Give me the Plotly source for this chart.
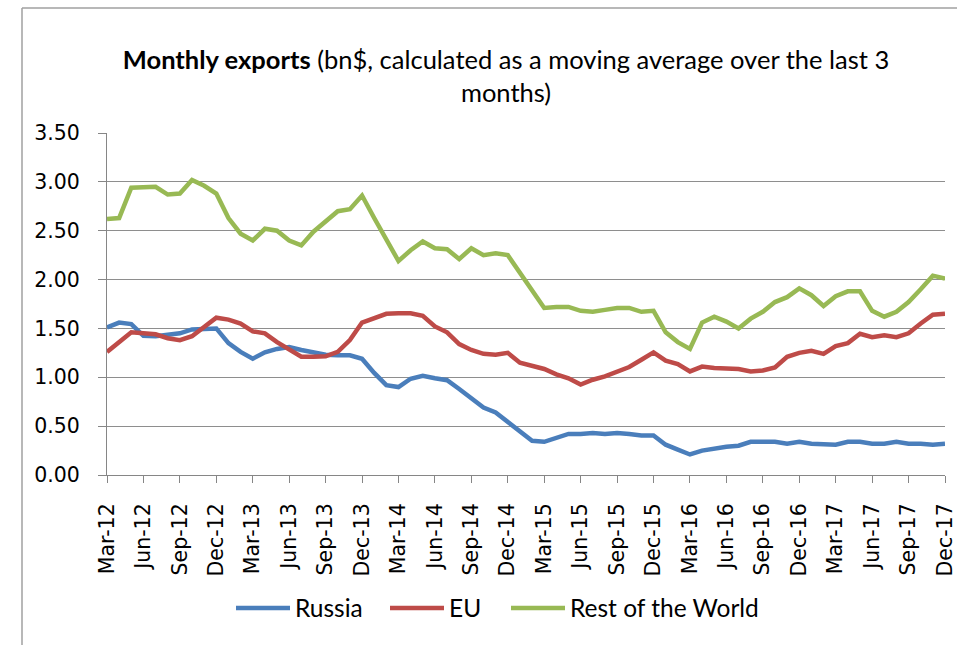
import plotly.graph_objects as go

months = ["Mar-12","Apr-12","May-12","Jun-12","Jul-12","Aug-12","Sep-12","Oct-12","Nov-12","Dec-12",
          "Jan-13","Feb-13","Mar-13","Apr-13","May-13","Jun-13","Jul-13","Aug-13","Sep-13","Oct-13","Nov-13","Dec-13",
          "Jan-14","Feb-14","Mar-14","Apr-14","May-14","Jun-14","Jul-14","Aug-14","Sep-14","Oct-14","Nov-14","Dec-14",
          "Jan-15","Feb-15","Mar-15","Apr-15","May-15","Jun-15","Jul-15","Aug-15","Sep-15","Oct-15","Nov-15","Dec-15",
          "Jan-16","Feb-16","Mar-16","Apr-16","May-16","Jun-16","Jul-16","Aug-16","Sep-16","Oct-16","Nov-16","Dec-16",
          "Jan-17","Feb-17","Mar-17","Apr-17","May-17","Jun-17","Jul-17","Aug-17","Sep-17","Oct-17","Nov-17","Dec-17"]

russia = [1.51,1.56,1.545,1.425,1.42,1.43,1.45,1.49,1.49,1.50,
          1.35,1.26,1.19,1.255,1.29,1.31,1.28,1.25,1.23,1.225,1.225,1.19,
          1.045,0.92,0.90,0.985,1.015,0.99,0.97,0.88,0.79,0.69,0.64,0.54,
          0.44,0.35,0.34,0.38,0.42,0.42,0.43,0.42,0.43,0.42,0.405,0.405,
          0.31,0.26,0.21,0.25,0.275,0.29,0.30,0.34,0.34,0.34,0.32,0.34,
          0.32,0.31,0.31,0.34,0.34,0.32,0.32,0.34,0.32,0.32,0.31,0.32]

eu = [1.26,1.36,1.46,1.45,1.44,1.40,1.38,1.42,1.51,1.61,
      1.59,1.55,1.47,1.45,1.36,1.28,1.21,1.21,1.215,1.26,1.38,1.56,
      1.60,1.65,1.655,1.655,1.63,1.52,1.46,1.34,1.28,1.24,1.23,1.25,
      1.15,1.12,1.085,1.03,0.99,0.925,0.975,1.01,1.06,1.105,1.18,1.255,
      1.17,1.135,1.06,1.11,1.095,1.09,1.085,1.06,1.07,1.10,1.21,1.25,
      1.27,1.24,1.32,1.35,1.445,1.41,1.43,1.41,1.45,1.55,1.64,1.65]

rest_of_world = [2.62,2.63,2.94,2.95,2.95,2.87,2.88,3.02,2.96,2.88,
                 2.63,2.47,2.40,2.52,2.50,2.40,2.35,2.49,2.60,2.70,2.72,2.86,
                 2.63,2.41,2.19,2.30,2.39,2.32,2.31,2.21,2.32,2.25,2.27,2.25,
                 2.07,1.88,1.71,1.72,1.72,1.68,1.67,1.69,1.71,1.71,1.67,1.68,
                 1.46,1.36,1.29,1.56,1.62,1.57,1.50,1.60,1.67,1.77,1.82,1.91,
                 1.84,1.73,1.83,1.88,1.88,1.68,1.62,1.67,1.77,1.90,2.04,2.01]

y_ticks = [0, 0.5, 1.0, 1.5, 2.0, 2.5, 3.0, 3.5]
tick_labels = months[::3]

# the page margin is removed by a small post script, so figure coords == page coords
W, H = 957, 645
L, R, T, B = 107, 945, 133, 475

def px_x(page_x):
    return (page_x - L) / (R - L)

def px_y(page_y):
    return (B - page_y) / (B - T)

text_font = "Lato, Carlito, Calibri, sans-serif"
tick_font = dict(family="DejaVu Sans, Verdana, sans-serif", size=20.5, color="#000000")

series = [("Russia", russia, "#4A7EBB", "legend", 231),
          ("EU", eu, "#BE4B48", "legend2", 385),
          ("Rest of the World", rest_of_world, "#98B954", "legend3", 506)]

fig = go.Figure()
legends = {}
for name, vals, col, leg, lx in series:
    fig.add_trace(go.Scatter(x=months, y=vals, mode="lines", name=name,
                             line=dict(color=col, width=4.5), legend=leg))
    legends[leg] = dict(orientation="h", x=px_x(lx), xanchor="left",
                        y=px_y(608), yanchor="middle",
                        font=dict(family=text_font, size=24.5, color="#000000"),
                        itemwidth=54, bgcolor="rgba(0,0,0,0)")

fig.update_layout(
    width=W, height=H,
    margin=dict(l=L, r=W - R, t=T, b=H - B, pad=0, autoexpand=False),
    paper_bgcolor="white", plot_bgcolor="white",
    title=dict(text="<b>Monthly exports</b> (bn$, calculated as a moving average over the last 3<br>months)",
               x=506 / W, xref="container", xanchor="center",
               y=1 - 69 / H, yref="container", yanchor="top",
               font=dict(family=text_font, size=25.5, color="#000000")),
    showlegend=True,
    xaxis=dict(type="category", range=[0, len(months) - 1], automargin=False,
               tickmode="array", tickvals=tick_labels, ticktext=tick_labels,
               tickangle=-90, tickfont=tick_font,
               ticks="outside", ticklen=7, tickcolor="#868686", tickwidth=1.2,
               ticklabelstandoff=12,
               showline=True, linecolor="#868686", linewidth=1.2,
               showgrid=False, zeroline=False),
    yaxis=dict(range=[0, 3.5], automargin=False, tickmode="array", tickvals=y_ticks,
               ticktext=[f"{v:.2f}" for v in y_ticks], tickfont=tick_font,
               ticks="outside", ticklen=8, tickcolor="#868686", tickwidth=1.2,
               ticklabelstandoff=14,
               showline=True, linecolor="#868686", linewidth=1.2,
               showgrid=True, gridcolor="#8E8E8E", gridwidth=1.3, zeroline=False),
    **legends,
)

# chart frame (top and left edges)
fx = px_x(22)
fy = px_y(8)
fig.add_shape(type="line", xref="paper", yref="paper", x0=fx, x1=px_x(W), y0=fy, y1=fy,
              line=dict(color="#A0A0A0", width=1.5))
fig.add_shape(type="line", xref="paper", yref="paper", x0=fx, x1=fx, y0=fy, y1=px_y(H),
              line=dict(color="#A0A0A0", width=1.5))

fig.write_html("out.html", config={"displayModeBar": False},
               post_script="document.body.style.margin='0';document.body.style.overflow='hidden';")
